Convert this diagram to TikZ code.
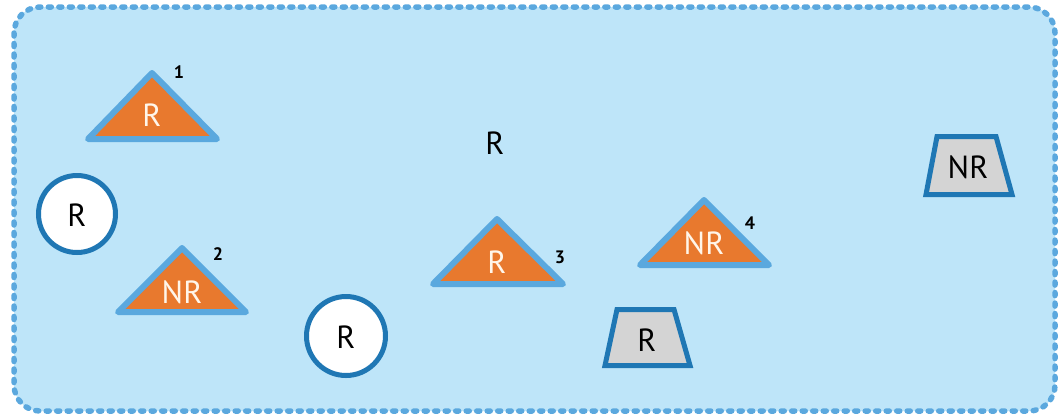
\documentclass[tikz,border=0pt]{standalone}
\usepackage{fontspec}
\setmainfont{PT Sans}
\definecolor{bgfill}{HTML}{BEE5F9}
\definecolor{bgline}{HTML}{5BA8DE}
\definecolor{triorange}{HTML}{E8792E}
\definecolor{triline}{HTML}{5AA8DE}
\definecolor{darkline}{HTML}{1F77B4}
\definecolor{greyfill}{HTML}{D4D4D4}
\definecolor{lbltext}{HTML}{FFF6EA}
\begin{document}
\begin{tikzpicture}[x=1pt,y=-1pt,
  frame/.style={draw=bgline,fill=bgfill,line width=5.5pt,line cap=round,dash pattern=on 3pt off 7.5pt,rounded corners=26pt},
  tri/.style={draw=triline,fill=triorange,line width=6pt,line join=round},
  trap/.style={draw=darkline,fill=greyfill,line width=5pt,line join=miter},
  circ/.style={draw=darkline,fill=white,line width=5pt},
  tlabel/.style={inner sep=0pt,text=lbltext,font=\fontsize{32}{32}\selectfont},
  blabel/.style={inner sep=0pt,text=black,font=\fontsize{32}{32}\selectfont},
  num/.style={inner sep=0pt,text=black,font=\bfseries\fontsize{18}{18}\selectfont}]
\useasboundingbox (0,0) rectangle (1064,416);
\draw[frame] (14,7) rectangle (1055,411);
% triangles
\draw[tri] (152,73) -- (88,139) -- (217,139) -- cycle;
\node[tlabel] (t1) at (152,115) {R};
\node[num] (n1) at (179,72) {1};
\draw[tri] (182,248) -- (118,312) -- (246,312) -- cycle;
\node[tlabel] (t2) at (182,292) {NR};
\node[num] (n2) at (218,254) {2};
\draw[tri] (497,219) -- (433,284) -- (563,284) -- cycle;
\node[tlabel] (t3) at (497,262) {R};
\node[num] (n3) at (560,257) {3};
\draw[tri] (704,200) -- (640,265) -- (769,265) -- cycle;
\node[tlabel] (t4) at (704,243) {NR};
\node[num] (n4) at (750,223) {4};
% circles
\draw[circ] (77,214) circle[radius=38.5];
\node[blabel] (c1) at (77,215) {R};
\draw[circ] (346,336) circle[radius=39.5];
\node[blabel] (c2) at (346,337) {R};
% trapezoids
\draw[trap] (617,309.5) -- (674,309.5) -- (690,365.5) -- (605,365.5) -- cycle;
\node[blabel] (p1) at (647,340) {R};
\draw[trap] (937,136.5) -- (996,136.5) -- (1012,194.5) -- (926,194.5) -- cycle;
\node[blabel] (p2) at (968,167) {NR};
% free label
\node[blabel] (r0) at (495,143) {R};
\end{tikzpicture}
\end{document}
